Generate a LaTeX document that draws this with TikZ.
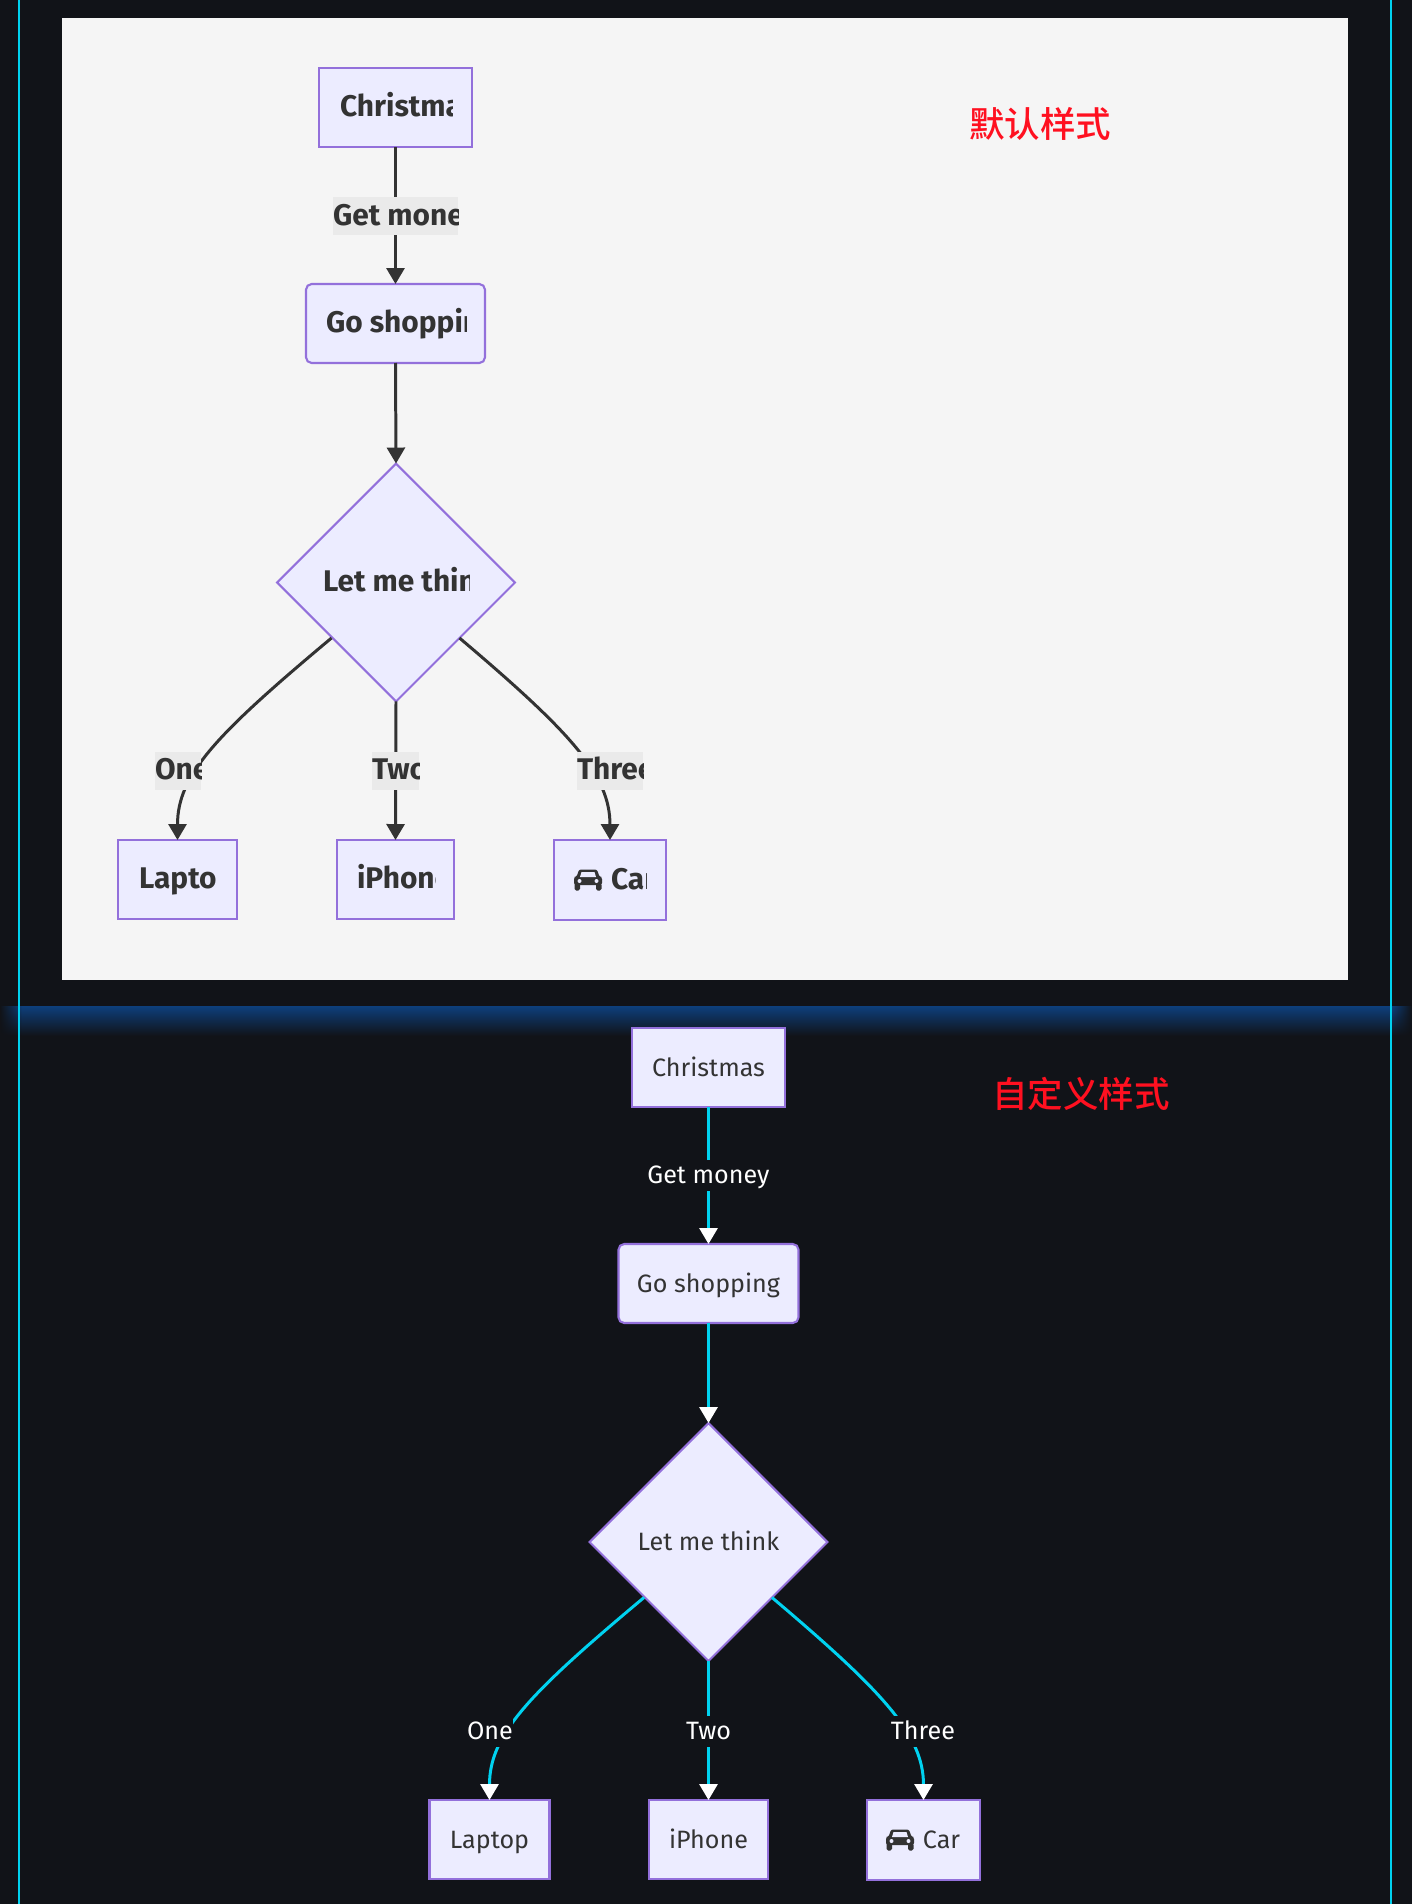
\documentclass[tikz,border=0pt]{standalone}
\usepackage{fontspec}
\setmainfont{Fira Sans}
\newfontfamily\cjk{Noto Sans CJK SC Medium}
\usepackage{xcolor}
\usetikzlibrary{arrows.meta,shapes.geometric,fadings}
\definecolor{pagebg}{HTML}{111318}
\definecolor{panelbg}{HTML}{F5F5F5}
\definecolor{bandblue}{HTML}{0D3F7C}
\definecolor{railcyan}{HTML}{00D2F0}
\definecolor{nodefill}{HTML}{ECECFF}
\definecolor{nodeline}{HTML}{9370DB}
\definecolor{inktext}{HTML}{333333}
\definecolor{labelred}{HTML}{FF1020}
\definecolor{labelgray}{HTML}{EAEAEA}
\newcommand{\cliptext}[5]{%
  \begin{scope}
    \clip (#2,#4-30) rectangle (#3,#4+30);
    \node[boldtext,anchor=west] (#1) at (#2,#4) {#5};
  \end{scope}}
\begin{document}
\begin{tikzpicture}[
    x=0.02cm, y=-0.02cm,
    font=\fontsize{14.3pt}{17pt}\selectfont,
    boldtext/.style={inner sep=0pt, outer sep=0pt, text=inktext, text height=12.3pt, text depth=2pt, font=\fontsize{17pt}{20pt}\selectfont\bfseries},
    boxnode/.style={rectangle, draw=nodeline, fill=nodefill, line width=1.2pt, minimum height=1.58cm, inner sep=0pt, outer sep=0pt, text=inktext, text height=12pt, text depth=2.2pt},
    roundnode/.style={boxnode, rounded corners=3.2pt},
    dianode/.style={diamond, aspect=1, draw=nodeline, fill=nodefill, line width=1.2pt, minimum width=4.76cm, minimum height=4.76cm, inner sep=0pt, outer sep=0pt, text=inktext, text height=12pt, text depth=2.2pt},
    edgeA/.style={-{Triangle[length=3.2mm,width=3.6mm]}, line width=1.7pt, draw=inktext},
    edgeB/.style={-{Triangle[length=3.2mm,width=3.6mm,color=white]}, line width=1.7pt, draw=railcyan},
    tagA/.style={fill=labelgray, inner sep=0pt, outer sep=0pt, minimum height=0.76cm},
    tagB/.style={fill=pagebg, text=white, inner sep=0pt, outer sep=0pt, minimum height=0.62cm, text height=12pt, text depth=2.2pt},
    titletext/.style={text=labelred, inner sep=0pt, font=\cjk\fontsize{20.2pt}{24pt}\selectfont},
    caricon/.pic={
      \fill[inktext, rounded corners=1.2pt] (-9,-10.5) -- (9,-10.5) -- (11.5,-3) -- (14,-3) -- (14,5) -- (-14,5) -- (-14,-3) -- (-11.5,-3) -- cycle;
      \fill[inktext, rounded corners=1pt] (-13.5,3) rectangle (-8,10.5);
      \fill[inktext, rounded corners=1pt] (8,3) rectangle (13.5,10.5);
      \fill[nodefill] (-6.5,-8) -- (6.5,-8) -- (8,-3) -- (-8,-3) -- cycle;
      \fill[nodefill] (-8.5,1) circle (2);
      \fill[nodefill] (8.5,1) circle (2);
    }
  ]
    \useasboundingbox (0,0) rectangle (1412,1904);
    \fill[pagebg] (0,0) rectangle (1412,1904);
    \fill[panelbg] (62,18) rectangle (1348,980);
    \shade[top color=bandblue, bottom color=pagebg] (0,1006) rectangle (1412,1036);
    \fill[pagebg, path fading=east] (0,1006) rectangle (22,1036);
    \fill[pagebg, path fading=west] (1392,1006) rectangle (1412,1036);
    \foreach \x in {19,1391} {
      \fill[railcyan] (\x-1,0) rectangle (\x+1,1904);
    }

    % upper diagram
    \node[boxnode, minimum width=3.06cm] (xmasA) at (395.5,107.5) {};
    \node[roundnode, minimum width=3.58cm] (shopA) at (395.5,323.5) {};
    \node[dianode] (thinkA) at (396,582.5) {};
    \node[boxnode, minimum width=2.38cm] (laptopA) at (177.5,879.5) {};
    \node[boxnode, minimum width=2.34cm] (phoneA) at (395.5,879.5) {};
    \node[boxnode, minimum width=2.24cm, minimum height=1.6cm] (carA) at (610,880) {};
    \draw[edgeA] (xmasA.south) -- (shopA.north);
    \draw[edgeA] (shopA.south) -- (thinkA.north);
    \draw[edgeA] ([shift={(-5,-4)}]thinkA.south west) .. controls +(-116,97) and +(0,-65) .. (laptopA.north);
    \draw[edgeA] (thinkA.south) -- (phoneA.north);
    \draw[edgeA] ([shift={(4,-4)}]thinkA.south east) .. controls +(111,94) and +(0,-65) .. (carA.north);
    \node[tagA, minimum width=2.5cm] (moneyA) at (395.5,216) {};
    \node[tagA, minimum width=0.92cm] (oneA) at (178,770.5) {};
    \node[tagA, minimum width=0.94cm] (twoA) at (395.5,770.5) {};
    \node[tagA, minimum width=1.32cm] (threeA) at (610,770.5) {};
    \cliptext{xmasTextA}{340}{452}{107.5}{Christmas}
    \cliptext{moneyTextA}{333}{458}{216}{Get money}
    \cliptext{shopTextA}{326}{466}{323.5}{Go shopping}
    \cliptext{thinkTextA}{323}{469}{582.5}{Let me think}
    \cliptext{oneTextA}{155}{201}{770.5}{One}
    \cliptext{twoTextA}{372}{419}{770.5}{Two}
    \cliptext{threeTextA}{577}{643}{770.5}{Three}
    \cliptext{laptopTextA}{139}{216}{879.5}{Laptop}
    \cliptext{phoneTextA}{357}{435}{879.5}{iPhone}
    \cliptext{carTextA}{611}{646}{880}{Car}
    \pic at (588,880) {caricon};
    \node[titletext] (titleA) at (1040,124) {默认样式};

    % lower diagram
    \node[boxnode, minimum width=3.06cm] (xmasB) at (708.5,1067.5) {Christmas};
    \node[roundnode, minimum width=3.6cm] (shopB) at (708.5,1283.5) {Go shopping};
    \node[dianode] (thinkB) at (708.5,1542) {Let me think};
    \node[boxnode, minimum width=2.4cm] (laptopB) at (489.5,1839.5) {Laptop};
    \node[boxnode, minimum width=2.38cm] (phoneB) at (708.5,1839.5) {iPhone};
    \node[boxnode, minimum width=2.26cm, minimum height=1.6cm] (carB) at (923.5,1840) {\hspace{0.72cm}Car};
    \draw[edgeB] (xmasB.south) -- (shopB.north);
    \draw[edgeB] (shopB.south) -- (thinkB.north);
    \draw[edgeB] ([shift={(-5,-4)}]thinkB.south west) .. controls +(-116,97) and +(0,-65) .. (laptopB.north);
    \draw[edgeB] (thinkB.south) -- (phoneB.north);
    \draw[edgeB] ([shift={(4,-4)}]thinkB.south east) .. controls +(111,94) and +(0,-65) .. (carB.north);
    \node[tagB] (moneyB) at (708.5,1175) {Get money};
    \node[tagB] (oneB) at (490,1731) {One};
    \node[tagB] (twoB) at (708.5,1731) {Two};
    \node[tagB] (threeB) at (923,1731) {Three};
    \pic at (900,1840) {caricon};
    \node[titletext] (titleB) at (1081,1094) {自定义样式};
  \end{tikzpicture}
\end{document}
